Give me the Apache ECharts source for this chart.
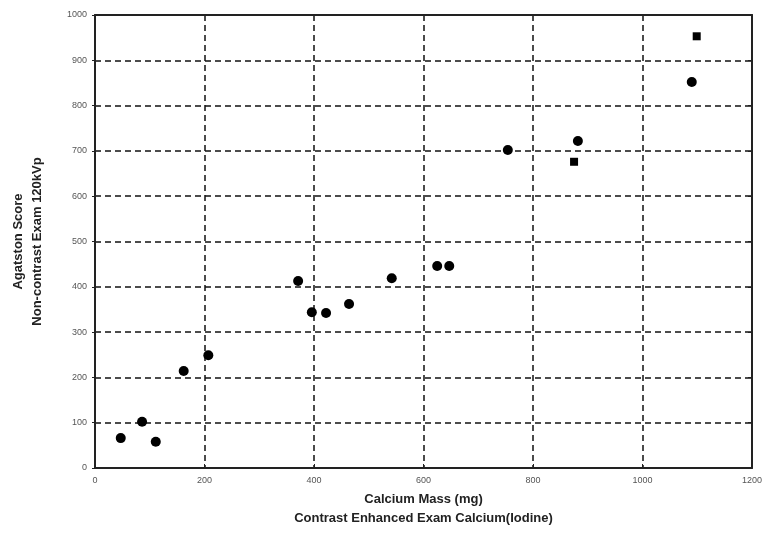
<!DOCTYPE html>
<html>
<head>
<meta charset="utf-8">
<script src="https://cdn.jsdelivr.net/npm/echarts@6/dist/echarts.min.js"></script>
<style>
  html, body { margin: 0; padding: 0; background: #fff; }
  #main { width: 766px; height: 540px; }
</style>
</head>
<body>
<div id="main"></div>
<script>
// calcium mass (mg) vs agatston score
var circleX = [47, 86, 111, 162, 207, 371, 396, 422, 464, 542, 625, 647, 754, 882, 1090];
var circleY = [66, 102, 58, 214, 249, 413, 344, 342, 362, 419, 446, 446, 702, 722, 852];
var squareX = [875, 1099];
var squareY = [676, 953];

var xTicks = { min: 0, max: 1200, step: 200 };
var yTicks = { min: 0, max: 1000, step: 100 };

var toPairs = function(xs, ys){
	var out = [];
	for (var i = 0; i < xs.length; i++) {
		out.push([xs[i], ys[i]]);
	}
	return out;
}

var gridLine = { show: true, lineStyle: { color: '#111', width: 1.5, type: [6, 4] } };
var axisLine = { show: true, onZero: false, lineStyle: { color: '#222', width: 2 } };
var tickLabel = { color: '#555', fontSize: 9, fontFamily: 'Liberation Sans', formatter: function(v){ return String(v); } };
var nameText = { color: '#222', fontSize: 13, fontWeight: 'bold', fontFamily: 'Liberation Sans', lineHeight: 19 };

var chart = echarts.init(document.getElementById('main'));
chart.setOption({
	animation: false,
	backgroundColor: '#fff',
	grid: { left: 95, right: 14, top: 15, bottom: 72, outerBoundsMode: 'none', containLabel: false },
	xAxis: [{
		type: 'value',
		min: xTicks.min, max: xTicks.max, interval: xTicks.step,
		name: 'Calcium Mass (mg)\nContrast Enhanced Exam Calcium(Iodine)',
		nameLocation: 'middle', nameGap: 21,
		nameTextStyle: nameText,
		axisLine: axisLine,
		axisTick: { show: true, inside: true, length: 4, lineStyle: { color: '#222' } },
		axisLabel: tickLabel,
		splitLine: gridLine
	}, {
		type: 'value', position: 'top',
		min: xTicks.min, max: xTicks.max, interval: xTicks.step,
		axisLine: axisLine,
		axisTick: { show: false }, axisLabel: { show: false }, splitLine: { show: false }
	}],
	yAxis: [{
		type: 'value',
		min: yTicks.min, max: yTicks.max, interval: yTicks.step,
		name: 'Agatston Score\nNon-contrast Exam 120kVp',
		nameLocation: 'middle', nameGap: 48,
		nameTextStyle: nameText,
		axisLine: axisLine,
		axisTick: { show: true, inside: false, length: 3, lineStyle: { color: '#222' } },
		axisLabel: tickLabel,
		splitLine: gridLine
	}, {
		type: 'value', position: 'right',
		min: yTicks.min, max: yTicks.max, interval: yTicks.step,
		axisLine: axisLine,
		axisTick: { show: true, inside: true, length: 4, lineStyle: { color: '#222' } },
		axisLabel: { show: false }, splitLine: { show: false }
	}],
	series: [{
		type: 'scatter',
		symbol: 'circle',
		symbolSize: 10,
		itemStyle: { color: '#000', opacity: 1 },
		data: toPairs(circleX, circleY)
	}, {
		type: 'scatter',
		symbol: 'rect',
		symbolSize: 8,
		itemStyle: { color: '#000', opacity: 1 },
		data: toPairs(squareX, squareY)
	}]
});
</script>
</body>
</html>
